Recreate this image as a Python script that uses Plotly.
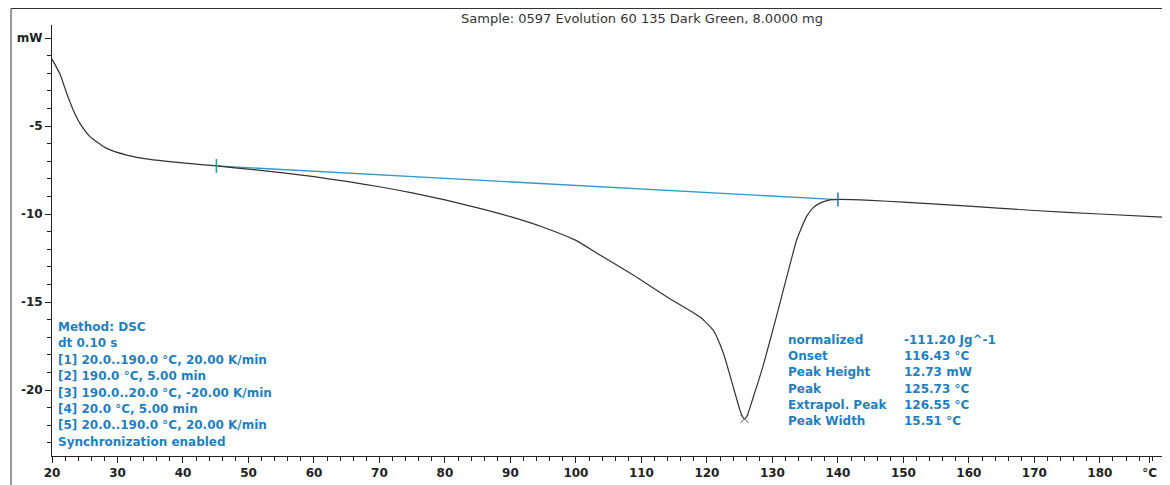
import plotly.graph_objects as go

# DSC trace, heat flow (mW) against temperature (°C)
temp = [20, 21.22, 22.24, 23.25, 24.27, 25.8, 28.35, 31.4, 34.96, 39.54, 45.15, 50, 55,
        60, 65, 70, 75, 80, 85, 90, 95, 100, 103.66, 108.75, 113.85, 118.9, 120.96,
        122.5, 124.0, 125.0, 125.35, 125.73, 126.15, 127.0, 128.6, 130.6, 132.2, 133.7,
        135.2, 136.2, 137.25, 138.5, 140.0, 145, 150, 160, 170, 180, 190.4]
heat_flow = [-1.2, -2.05, -3.14, -4.1, -4.85, -5.6, -6.27, -6.65, -6.9, -7.08, -7.27,
             -7.45, -7.65, -7.88, -8.15, -8.45, -8.8, -9.2, -9.65, -10.15, -10.75, -11.5,
             -12.33, -13.47, -14.7, -15.84, -16.6, -17.9, -19.8, -21.1, -21.45,
             -21.64, -21.45, -20.5, -18.6, -15.84, -13.56, -11.48, -10.15, -9.65, -9.38,
             -9.22, -9.17, -9.22, -9.33, -9.55, -9.8, -10.0, -10.2]

# integration baseline limits
base_temp = [45.1, 140.0]
base_flow = [-7.27, -9.18]

peak_temp = [125.73]
peak_flow = [-21.64]

title_text = "Sample: 0597 Evolution 60 135 Dark Green, 8.0000 mg"
method_lines = ["Method: DSC", "dt 0.10 s",
                "[1] 20.0..190.0 °C, 20.00 K/min",
                "[2] 190.0 °C, 5.00 min",
                "[3] 190.0..20.0 °C, -20.00 K/min",
                "[4] 20.0 °C, 5.00 min",
                "[5] 20.0..190.0 °C, 20.00 K/min",
                "Synchronization enabled"]
result_labels = ["normalized", "Onset", "Peak Height", "Peak", "Extrapol. Peak", "Peak Width"]
result_values = ["-111.20 Jg^-1", "116.43 °C", "12.73 mW", "125.73 °C", "126.55 °C", "15.51 °C"]

x_ticks = [20, 30, 40, 50, 60, 70, 80, 90, 100, 110, 120, 130, 140, 150, 160, 170, 180, 187.6]
x_labels = ["20", "30", "40", "50", "60", "70", "80", "90", "100", "110", "120", "130",
            "140", "150", "160", "170", "180", "°C"]
y_ticks = [-20, -15, -10, -5, 0]
y_labels = ["-20", "-15", "-10", "-5", "mW"]

blue = "#1f7fc1"
font = "DejaVu Sans"

fig = go.Figure()
fig.add_trace(go.Scatter(x=base_temp, y=base_flow, mode="lines",
                         line=dict(color="#2f9ac8", width=1.3), hoverinfo="skip"))
fig.add_trace(go.Scatter(x=temp, y=heat_flow, mode="lines",
                         line=dict(color="#333333", width=1.2, shape="spline", smoothing=0.5)))
fig.add_trace(go.Scatter(x=base_temp[:1], y=base_flow[:1], mode="markers",
                         marker=dict(symbol="line-ns", size=10, line=dict(color="#2a9d8f", width=1.6))))
fig.add_trace(go.Scatter(x=base_temp[1:], y=base_flow[1:], mode="markers",
                         marker=dict(symbol="line-ns", size=10, line=dict(color="#2f7fc1", width=1.6))))
fig.add_trace(go.Scatter(x=peak_temp, y=peak_flow, mode="markers",
                         marker=dict(symbol="x-thin", size=8, line=dict(color="#555555", width=1))))

# plot area in screen pixels: left 52, right 1168, top 25, bottom 456
# (the page body adds an 8px margin, so the figure itself is 8px smaller)
def px_x(p):
    return (p - 52) / 1116

def px_y(p):
    return (456 - p) / 431

fig.add_annotation(text=title_text, x=px_x(642), y=px_y(18), xref="paper", yref="paper",
                   showarrow=False, xanchor="center", yanchor="middle",
                   font=dict(family=font, size=13, color="#333333"))

for i, line in enumerate(method_lines):
    fig.add_annotation(text="<b>" + line + "</b>", x=px_x(56), y=px_y(327 + i * 16.4),
                       xref="paper", yref="paper", showarrow=False,
                       xanchor="left", yanchor="middle",
                       font=dict(family=font, size=12, color=blue))

for i, (lab, val) in enumerate(zip(result_labels, result_values)):
    yy = px_y(340 + i * 16.2)
    fig.add_annotation(text="<b>" + lab + "</b>", x=px_x(786), y=yy, xref="paper", yref="paper",
                       showarrow=False, xanchor="left", yanchor="middle",
                       font=dict(family=font, size=12, color=blue))
    fig.add_annotation(text="<b>" + val + "</b>", x=px_x(902), y=yy, xref="paper", yref="paper",
                       showarrow=False, xanchor="left", yanchor="middle",
                       font=dict(family=font, size=12, color=blue))

# outer frame (top and left edges)
fig.add_shape(type="line", xref="paper", yref="paper", x0=px_x(11), x1=px_x(1172),
              y0=px_y(8.5), y1=px_y(8.5), line=dict(color="#333333", width=1))
fig.add_shape(type="line", xref="paper", yref="paper", x0=px_x(11), x1=px_x(11),
              y0=px_y(8.5), y1=px_y(490), line=dict(color="#333333", width=1))

fig.update_xaxes(range=[20, 190.4], showgrid=False, zeroline=False,
                 showline=True, linecolor="#222222", linewidth=1,
                 tickmode="array", tickvals=x_ticks, ticktext=x_labels,
                 ticks="outside", ticklen=6, tickcolor="#222222",
                 ticklabeloverflow="allow",
                 minor=dict(dtick=2, tick0=20, ticks="outside", ticklen=4, tickcolor="#222222"),
                 tickfont=dict(family=font, size=12, color="#222222", weight="bold"))
fig.update_yaxes(range=[-23.75, 0.74], showgrid=False, zeroline=False,
                 showline=True, linecolor="#222222", linewidth=1,
                 tickmode="array", tickvals=y_ticks, ticktext=y_labels,
                 ticks="outside", ticklen=6, tickcolor="#222222",
                 minor=dict(dtick=1, tick0=0, ticks="outside", ticklen=4, tickcolor="#222222"),
                 tickfont=dict(family=font, size=12, color="#222222", weight="bold"))

fig.update_layout(width=1162, height=477, showlegend=False,
                  margin=dict(l=44, r=2, t=17, b=29),
                  plot_bgcolor="white", paper_bgcolor="white")

fig.write_html("out.html")
